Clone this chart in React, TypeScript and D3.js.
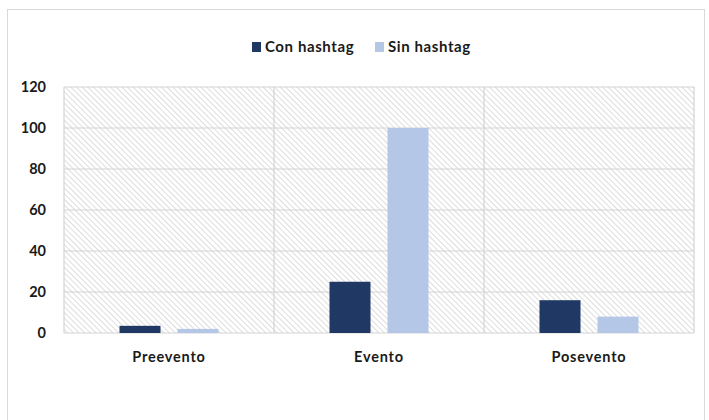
import React from "react";
import * as d3 from "d3";

const categories = ["Preevento", "Evento", "Posevento"];
const seriesNames = ["Con hashtag", "Sin hashtag"];
const conHashtag = [3.5, 25, 16];
const sinHashtag = [2, 100, 8];
const yTicks = [0, 20, 40, 60, 80, 100, 120];
const colors = ["#1f3864", "#b4c7e7"];

const W = 709;
const H = 420;
const plot = { left: 64, right: 694, top: 87, bottom: 333 };
const FONT = "Lato, 'Open Sans', sans-serif";

export default function App() {
  const x = d3
    .scaleBand<string>()
    .domain(categories)
    .range([plot.left, plot.right])
    .paddingInner(0)
    .paddingOuter(0);
  const y = d3.scaleLinear().domain([0, 120]).range([plot.bottom, plot.top]);
  const inner = d3
    .scaleBand<number>()
    .domain([0, 1])
    .range([0, x.bandwidth()])
    .paddingInner(0.293)
    .paddingOuter(0.957);

  const series = [conHashtag, sinHashtag];

  return (
    <svg
      width={W}
      height={H}
      style={{ position: "absolute", left: 0, top: 0, background: "#fff" }}
      fontFamily={FONT}
    >
      <defs>
        <pattern
          id="hatch"
          width="4"
          height="4"
          patternUnits="userSpaceOnUse"
          patternTransform="rotate(-45)"
        >
          <line x1="0" y1="0" x2="0" y2="4" stroke="#cfcfcf" strokeWidth="1.4" />
        </pattern>
      </defs>
      <rect x={7.5} y={9.5} width={697} height={420} fill="#fff" stroke="#d9d9d9" />

      {/* Legend */}
      {seriesNames.map((name, i) => {
        const lx = i === 0 ? 252 : 375;
        return (
          <g key={name}>
            <rect x={lx} y={42} width={9} height={10} fill={colors[i]} />
            <text
              x={lx + 13}
              y={52}
              fontSize={15}
              fontWeight={700}
              fill="#1a1a1a"
              letterSpacing={0.6}
            >
              {name}
            </text>
          </g>
        );
      })}

      {/* Plot background */}
      <rect
        x={plot.left}
        y={plot.top}
        width={plot.right - plot.left}
        height={plot.bottom - plot.top}
        fill="url(#hatch)"
      />
      {yTicks.map((t) => (
        <line
          key={t}
          x1={plot.left}
          x2={plot.right}
          y1={y(t)}
          y2={y(t)}
          stroke="#d4d4d4"
          strokeWidth={1.2}
        />
      ))}
      {categories.map((c) => (
        <line
          key={c}
          x1={x(c)!}
          x2={x(c)!}
          y1={plot.top}
          y2={plot.bottom}
          stroke="#d4d4d4"
          strokeWidth={1.2}
        />
      ))}
      <line
        x1={plot.right}
        x2={plot.right}
        y1={plot.top}
        y2={plot.bottom}
        stroke="#d4d4d4"
        strokeWidth={1.2}
      />

      {/* Bars */}
      {series.map((vals, si) =>
        categories.map((c, ci) => (
          <rect
            key={`${si}-${c}`}
            x={x(c)! + inner(si)!}
            width={inner.bandwidth()}
            y={y(vals[ci])}
            height={plot.bottom - y(vals[ci])}
            fill={colors[si]}
          />
        ))
      )}

      {/* Y axis labels */}
      {yTicks.map((t) => (
        <text
          key={t}
          x={46}
          y={y(t)}
          dy="0.35em"
          textAnchor="end"
          fontSize={14.5}
          fontWeight={700}
          fill="#1a1a1a"
        >
          {t}
        </text>
      ))}

      {/* Category labels */}
      {categories.map((c) => (
        <text
          key={c}
          x={x(c)! + x.bandwidth() / 2}
          y={362}
          textAnchor="middle"
          fontSize={14.5}
          fontWeight={700}
          fill="#1a1a1a"
          letterSpacing={0.8}
        >
          {c}
        </text>
      ))}
    </svg>
  );
}
